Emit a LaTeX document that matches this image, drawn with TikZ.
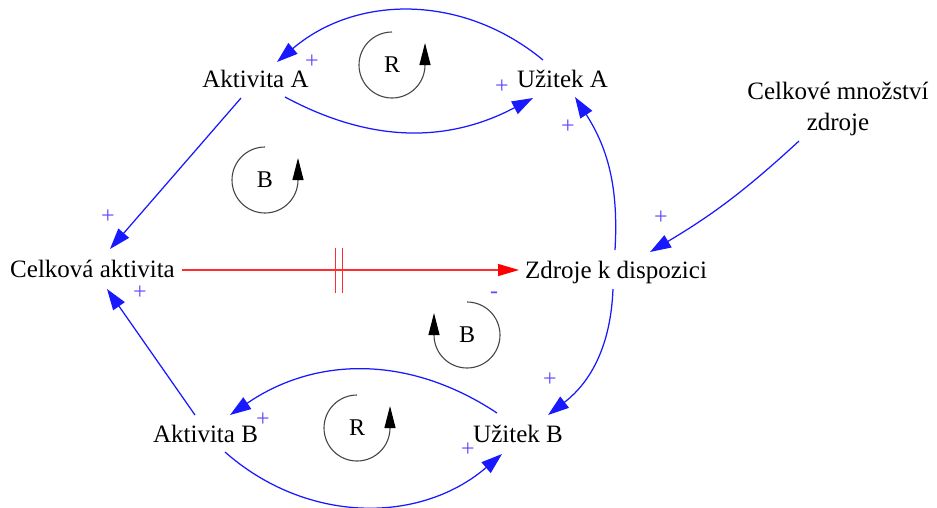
\documentclass[tikz,border=0pt]{standalone}
\usepackage{fontspec}
\setmainfont{Liberation Serif}
\usetikzlibrary{arrows.meta,calc}
\definecolor{linkblue}{RGB}{25,25,255}
\definecolor{signblue}{RGB}{95,75,255}
\definecolor{delayred}{RGB}{255,45,45}
\definecolor{loopgray}{RGB}{70,70,70}
\begin{document}
\begin{tikzpicture}[x=1pt,y=1pt,
  var/.style={font=\fontsize{25}{31}\selectfont, inner sep=0pt, anchor=base},
  link/.style={draw=linkblue, line width=1.25pt, -{Triangle[length=21pt,width=14pt]}},
  delaylink/.style={draw=delayred, line width=1.3pt, -{Triangle[length=21pt,width=12pt,color=red]}},
  delaybar/.style={draw=delayred, line width=1.2pt},
  sgn/.style={text=signblue, font=\fontsize{24}{24}\selectfont, inner sep=0pt},
  loopline/.style={draw=loopgray, line width=1.1pt, -{Triangle[length=22pt,width=11pt,color=black]}},
  looplabel/.style={font=\fontsize{24}{24}\selectfont, inner sep=0pt},
]
\useasboundingbox (0,0) rectangle (937,-507);

% variables
\node[var] (aa) at (255.5,-87) {Aktivita A};
\node[var] (ua) at (562.5,-87) {Užitek A};
\node[var] (ca) at (92.5,-277) {Celková aktivita};
\node[var] (zd) at (616,-278) {Zdroje k dispozici};
\node[var, align=center] (cm) at (838,-130) {Celkové množství\\zdroje};
\node[var] (ab) at (205.5,-442) {Aktivita B};
\node[var] (ub) at (518,-442) {Užitek B};

% causal links
\draw[link] ($(ua.base)+(-19.5,27)$) to[bend right=40] ($(aa.base)+(21.5,25)$);
\draw[link] ($(aa.base)+(29.5,-10)$) to[bend right=28] ($(ua.base)+(-29.5,-11)$);
\draw[link] ($(aa.base)+(-14.5,-11)$) -- ($(ca.base)+(17.5,28)$);
\draw[link] ($(ab.base)+(-10.5,27)$) -- ($(ca.base)+(14.5,-12)$);
\draw[link] ($(zd.base)+(-1,28)$) to[bend right=18] ($(ua.base)+(12.5,-10)$);
\draw[link] ($(zd.base)+(-3,-11)$) to[bend left=25] ($(ub.base)+(30,27)$);
\draw[link] ($(cm.base)+(-39,-11)$) to[bend left=6] ($(zd.base)+(34,26)$);
\draw[link] ($(ub.base)+(-21,29)$) to[bend right=34] ($(ab.base)+(24.5,27)$);
\draw[link] ($(ab.base)+(19.5,-10)$) to[bend right=41] ($(ub.base)+(-16,-12)$);

% delayed link
\draw[delaylink] ($(ca.base)+(89.5,7)$) -- coordinate[pos=0.466] (dl) ($(zd.base)+(-97,8)$);
\draw[delaybar] ($(dl)+(-3.5,22.5)$) -- ($(dl)+(-3.5,-22.5)$);
\draw[delaybar] ($(dl)+(3.5,22.5)$) -- ($(dl)+(3.5,-22.5)$);

% polarities
\node[sgn] (s1) at (312,-62) {+};
\node[sgn] (s2) at (502,-87) {+};
\node[sgn] (s3) at (568,-127) {+};
\node[sgn] (s4) at (108,-217) {+};
\node[sgn] (s5) at (140,-293) {+};
\node[sgn] (s6) at (661,-218) {+};
\node[sgn] (s7) at (494,-295) {-};
\node[sgn] (s8) at (550,-380) {+};
\node[sgn] (s9) at (263,-420) {+};
\node[sgn] (s10) at (468,-450) {+};

% loop markers
\node[looplabel] (l1) at (392,-65) {R};
\draw[loopline] ($(l1)+(0,33)$) arc[start angle=90,end angle=360,radius=33] -- ++(0,22);
\node[looplabel] (l2) at (265,-180) {B};
\draw[loopline] ($(l2)+(0,33)$) arc[start angle=90,end angle=360,radius=33] -- ++(0,22);
\node[looplabel] (l3) at (467,-335) {B};
\draw[loopline] ($(l3)+(0,33)$) arc[start angle=90,end angle=-180,radius=33] -- ++(0,22);
\node[looplabel] (l4) at (357,-428) {R};
\draw[loopline] ($(l4)+(0,33)$) arc[start angle=90,end angle=360,radius=33] -- ++(0,22);
\end{tikzpicture}
\end{document}
